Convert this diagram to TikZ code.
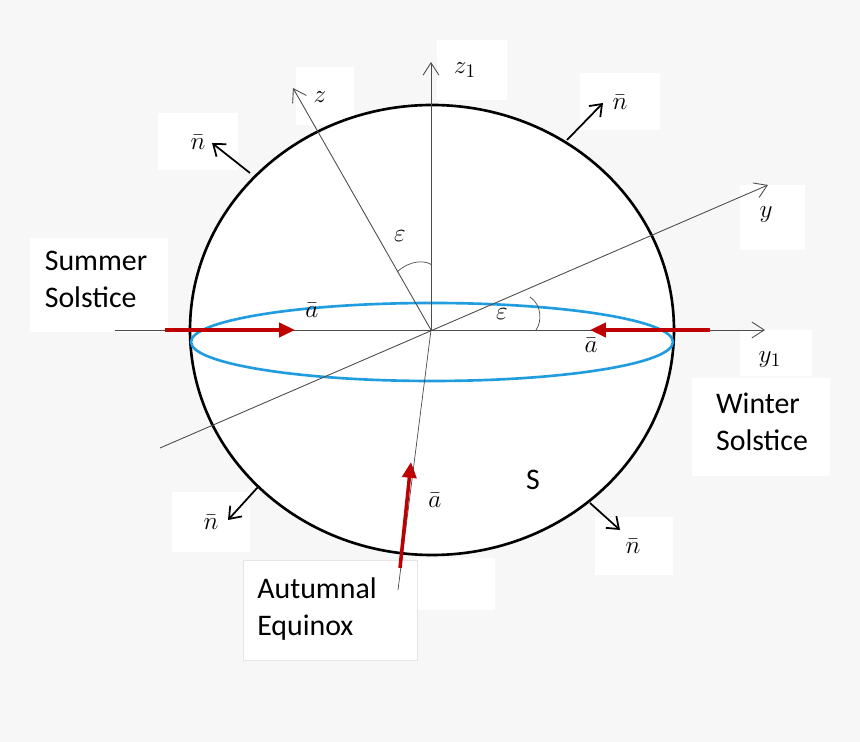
\documentclass[tikz,border=0pt]{standalone}
\usepackage{fontspec}
\setmainfont{Carlito}
\usetikzlibrary{arrows.meta}
\begin{document}
\begin{tikzpicture}[x=0.02cm,y=-0.02cm,
 box/.style={fill=white,draw=none},
 lbl/.style={font=\fontsize{15}{18}\selectfont},
 ttl/.style={font=\fontsize{17}{21}\selectfont,align=left},
 ax/.style={draw=black!70,line width=0.5pt,-{Straight Barb[length=7pt,width=9pt]}},
 nrm/.style={draw=black,line width=1pt,-{Straight Barb[length=6pt,width=9pt]}},
 red/.style={draw=red!75!black,line width=2pt,-{Triangle[length=9pt,width=8pt]}}]
\fill[black!3] (0,0) rectangle (860,742);
\useasboundingbox (0,0) rectangle (860,742);
% white boxes
\fill[box] (296,67) rectangle (354,125);
\fill[box] (437,40) rectangle (507,100);
\fill[box] (580,73) rectangle (660,130);
\fill[box] (158,113) rectangle (238,170);
\fill[box] (740,185) rectangle (805,250);
\fill[box] (30,238) rectangle (168,332);
\fill[box] (740,330) rectangle (812,376);
\fill[box] (692,378) rectangle (830,476);
\fill[box] (172,492) rectangle (250,552);
\fill[box] (595,517) rectangle (673,575);
\fill[box] (417,558) rectangle (495,610);
\fill[box] (243,560) rectangle (417,660);
\draw[black!10] (243,560) rectangle (417,660);
% sphere
\draw[line width=1.5pt,fill=white] (432,330) ellipse [x radius=242, y radius=225];
\draw[cyan!80!blue!90,line width=1.5pt] (432,342) ellipse [x radius=241, y radius=39];
\coordinate (O) at (431,330);
\coordinate (ylL) at (115,330); \coordinate (ylR) at (765,330);
\coordinate (z1) at (431,62); \coordinate (z) at (293,88);
\coordinate (zb) at (398,590);
\coordinate (yL) at (160,448); \coordinate (yR) at (768,185);
\draw[ax] (ylL) -- (ylR);
\draw[ax] (O) -- (z1);
\draw[ax] (O) -- (z);
\draw[black!70] (O) -- (zb);
\draw[ax] (yL) -- (yR);
% angle arcs
\draw[black!70] (397,272) .. controls (410,260) and (425,260) .. (432,265);
\draw[black!70] (530,297) .. controls (542,305) and (542,322) .. (536,330);
% red arrows
\coordinate (r1a) at (165,330); \coordinate (r1b) at (295,330);
\coordinate (r2a) at (710,330); \coordinate (r2b) at (590,330);
\coordinate (r3a) at (400,568); \coordinate (r3b) at (411,462);
\draw[red] (r1a) -- (r1b);
\draw[red] (r2a) -- (r2b);
\draw[red] (r3a) -- (r3b);
% normals
\coordinate (n1a) at (567,140); \coordinate (n1b) at (603,103);
\coordinate (n2a) at (250,173); \coordinate (n2b) at (212,143);
\coordinate (n3a) at (258,487); \coordinate (n3b) at (228,520);
\coordinate (n4a) at (590,503); \coordinate (n4b) at (620,530);
\draw[nrm] (n1a) -- (n1b);
\draw[nrm] (n2a) -- (n2b);
\draw[nrm] (n3a) -- (n3b);
\draw[nrm] (n4a) -- (n4b);
% labels
\node[lbl] (lz) at (320,97) {$z$};
\node[lbl] (lz1) at (465,70) {$z_1$};
\node[lbl] (ln1) at (620,102) {$\bar n$};
\node[lbl] (ln2) at (198,142) {$\bar n$};
\node[lbl] (ln3) at (211,522) {$\bar n$};
\node[lbl] (ln4) at (633,546) {$\bar n$};
\node[lbl] (ly) at (766,215) {$y$};
\node[lbl] (ly1) at (770,360) {$y_1$};
\node[lbl] (e1) at (400,236) {$\varepsilon$};
\node[lbl] (e2) at (502,314) {$\varepsilon$};
\node[lbl] (a1) at (312,310) {$\bar a$};
\node[lbl] (a2) at (591,345) {$\bar a$};
\node[lbl] (a3) at (435,500) {$\bar a$};
\node[font=\fontsize{17}{20}\selectfont] (S) at (533,480) {S};
\node[ttl] (ss) at (96,279) {Summer\\Solstice};
\node[ttl] (ws) at (762,422) {Winter\\Solstice};
\node[ttl] (ae) at (317,609) {Autumnal\\Equinox};
\end{tikzpicture}
\end{document}
